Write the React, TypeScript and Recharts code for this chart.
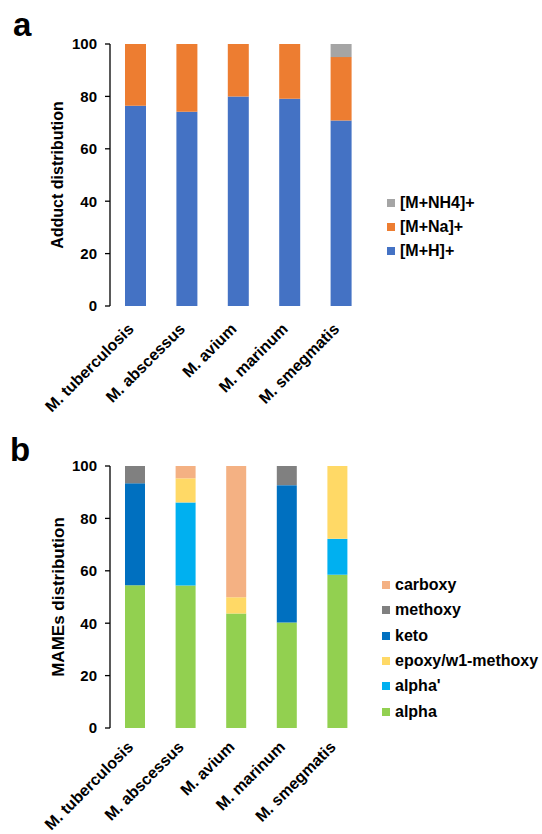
import React from 'react';
import { BarChart, Bar, XAxis, YAxis, Label } from 'recharts';

const species = ['M. tuberculosis', 'M. abscessus', 'M. avium', 'M. marinum', 'M. smegmatis'];

// panel a: adduct distribution (%)
const adductH = [76.4, 74.1, 80.0, 79.1, 70.8];
const adductNa = [23.6, 25.9, 20.0, 20.9, 24.2];
const adductNH4 = [0, 0, 0, 0, 5.0];

// panel b: MAMEs distribution (%)
const alpha = [54.5, 54.4, 43.7, 40.3, 58.5];
const alphaPrime = [0, 31.7, 0, 0, 13.7];
const epoxy = [0, 9.2, 6.2, 0, 27.8];
const keto = [38.9, 0, 0, 52.4, 0];
const methoxy = [6.6, 0, 0, 7.3, 0];
const carboxy = [0, 4.7, 50.1, 0, 0];

const yTicks = [0, 20, 40, 60, 80, 100];
const edgeTicks = [0, 1, 2, 3, 4, 5];

const font = '"Liberation Sans", Arial, sans-serif';

const adductSeries = [
  { key: 'h', name: '[M+H]+', color: '#4472C4', values: adductH },
  { key: 'na', name: '[M+Na]+', color: '#ED7D31', values: adductNa },
  { key: 'nh4', name: '[M+NH4]+', color: '#A5A5A5', values: adductNH4 },
];

const mamesSeries = [
  { key: 'alpha', name: 'alpha', color: '#92D050', values: alpha },
  { key: 'alphaP', name: "alpha'", color: '#00B0F0', values: alphaPrime },
  { key: 'epoxy', name: 'epoxy/w1-methoxy', color: '#FFD966', values: epoxy },
  { key: 'keto', name: 'keto', color: '#0070C0', values: keto },
  { key: 'methoxy', name: 'methoxy', color: '#808080', values: methoxy },
  { key: 'carboxy', name: 'carboxy', color: '#F4B183', values: carboxy },
];

type Series = { key: string; name: string; color: string; values: number[] };

const buildRows = (series: Series[]) =>
  species.map((name, i) => {
    const row: Record<string, string | number> = { name };
    series.forEach((s) => (row[s.key] = s.values[i]));
    return row;
  });

const SpeciesTick = (props: any) => {
  const { x, y, payload, drop } = props;
  return (
    <g transform={`translate(${x - 1},${y + drop})`}>
      <text
        x={0}
        y={0}
        textAnchor="end"
        transform="rotate(-45)"
        fill="#000"
        fontSize={16}
        fontWeight="bold"
        fontFamily={font}
      >
        {payload.value}
      </text>
    </g>
  );
};

interface PanelProps {
  series: Series[];
  title: string;
  titleSize: number;
  height: number;
  top: number;
  bottom: number;
  right: number;
  barSize: number;
  drop: number;
}

const Panel: React.FC<PanelProps> = ({ series, title, titleSize, height, top, bottom, right, barSize, drop }) => (
  <BarChart
    width={542}
    height={height}
    data={buildRows(series)}
    margin={{ top, right, left: 5, bottom: 0 }}
  >
    <XAxis
      xAxisId="edge"
      type="number"
      domain={[0, 5]}
      ticks={edgeTicks}
      tick={false}
      tickSize={5}
      height={0}
      stroke="#000"
      strokeWidth={1.3}
    />
    <XAxis
      dataKey="name"
      interval={0}
      axisLine={false}
      tickLine={false}
      height={bottom}
      tick={<SpeciesTick drop={drop} />}
    />
    <YAxis
      domain={[0, 100]}
      ticks={yTicks}
      width={105}
      tickSize={5}
      tickMargin={8}
      stroke="#000"
      strokeWidth={1.3}
      tick={{ fill: '#000', fontSize: 15, fontWeight: 'bold', fontFamily: font }}
    >
      <Label
        value={title}
        angle={-90}
        position="center"
        dx={0}
        fill="#000"
        fontSize={titleSize}
        fontWeight="bold"
        fontFamily={font}
      />
    </YAxis>
    {series.map((s) => (
      <Bar
        key={s.key}
        dataKey={s.key}
        name={s.name}
        stackId="a"
        fill={s.color}
        barSize={barSize}
        isAnimationActive={false}
      />
    ))}
  </BarChart>
);

const LegendBox: React.FC<{ series: Series[]; left: number; top: number; step: number }> = ({
  series,
  left,
  top,
  step,
}) => (
  <div style={{ position: 'absolute', left, top }}>
    {[...series].reverse().map((s, i) => (
      <div
        key={s.key}
        style={{
          position: 'absolute',
          top: i * step,
          left: 0,
          display: 'flex',
          alignItems: 'center',
          whiteSpace: 'nowrap',
          height: 20,
          fontFamily: font,
          fontWeight: 'bold',
          fontSize: 16,
          color: '#000',
        }}
      >
        <span style={{ display: 'inline-block', width: 8, height: 8, background: s.color, marginRight: 5 }} />
        {s.name}
      </div>
    ))}
  </div>
);

export default function App() {
  return (
    <div style={{ position: 'absolute', left: 0, top: 0, width: 542, height: 834, background: '#fff' }}>
      <div style={{ position: 'absolute', left: 0, top: 0 }}>
        <Panel series={adductSeries} title="Adduct distribution" titleSize={16} height={420} top={44} bottom={114} right={175} barSize={21} drop={16} />
      </div>
      <div style={{ position: 'absolute', left: 0, top: 420 }}>
        <Panel series={mamesSeries} title="MAMEs distribution" titleSize={17} height={414} top={46} bottom={106} right={179} barSize={20} drop={12} />
      </div>
      <LegendBox series={adductSeries} left={387} top={193} step={24} />
      <LegendBox series={mamesSeries} left={382} top={575} step={25.3} />
      <div style={{ position: 'absolute', left: 13, top: 6, fontFamily: font, fontWeight: 'bold', fontSize: 33 }}>a</div>
      <div style={{ position: 'absolute', left: 10, top: 431, fontFamily: font, fontWeight: 'bold', fontSize: 33 }}>b</div>
    </div>
  );
}
